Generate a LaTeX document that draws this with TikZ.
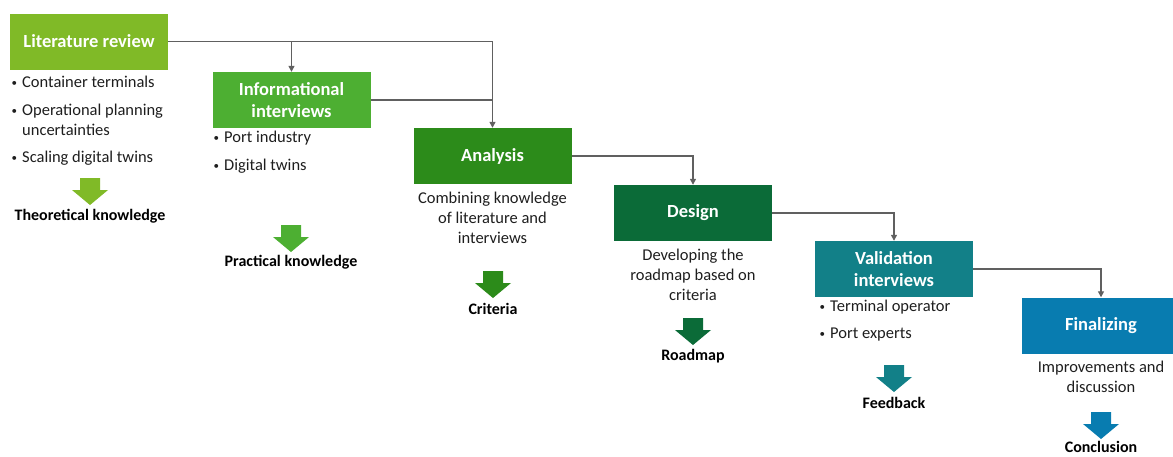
\documentclass[tikz,border=0pt]{standalone}
\usepackage{fontspec}
\setmainfont{Carlito}
\usetikzlibrary{arrows.meta}
\definecolor{litgreen}{RGB}{128,186,39}
\definecolor{infgreen}{RGB}{77,175,50}
\definecolor{anagreen}{RGB}{44,139,26}
\definecolor{desgreen}{RGB}{11,107,56}
\definecolor{valteal}{RGB}{18,128,136}
\definecolor{finblue}{RGB}{8,124,176}
\definecolor{linegray}{RGB}{96,96,96}
\definecolor{textgray}{RGB}{30,30,30}
\tikzset{
  phase/.style={fill=#1, text=white, minimum width=158pt, minimum height=56pt,
    align=center, inner sep=2pt, font=\fontsize{18.5}{22}\selectfont\bfseries},
  conn/.style={draw=linegray, line width=1.3pt, -{Triangle[width=6pt,length=6pt]}},
  link/.style={draw=linegray, line width=1.3pt},
  body/.style={inner sep=0pt, text=textgray, font=\fontsize{16.5}{20}\selectfont},
  result/.style={inner sep=0pt, text=black, font=\fontsize{16}{18}\selectfont\bfseries},
  downarr/.pic={\fill (-10,0) -- (10,0) -- (10,12) -- (18,12) -- (0,27) -- (-18,12) -- (-10,12) -- cycle;}
}
\newcommand{\bul}{\llap{\raisebox{1pt}{\fontsize{11}{11}\selectfont\textbullet}\hspace{5pt}}}
\begin{document}
\begin{tikzpicture}[x=1pt,y=-1pt]
  \clip (0,0) rectangle (1173,456);
  % phases
  \node[phase=litgreen] (lit) at (89,41.5) {Literature review};
  \node[phase=infgreen] (inf) at (291.5,100) {Informational\\interviews};
  \node[phase=anagreen] (ana) at (492.5,156) {Analysis};
  \node[phase=desgreen] (des) at (693,213) {Design};
  \node[phase=valteal] (val) at (894,269) {Validation\\interviews};
  \node[phase=finblue] (fin) at (1101,325.5) {Finalizing};
  % connectors
  \draw[conn] (lit.east) -| (ana.north);
  \draw[conn] (lit.east -| inf.north) -- (inf.north);
  \draw[link] (inf.east) -- (inf.east -| ana.north);
  \draw[conn] (ana.east) -| (des.north);
  \draw[conn] (des.east) -| (val.north);
  \draw[conn] (val.east) -| (fin.north);
  % descriptions
  \node[body, anchor=west] (lit1) at (22,82) {\bul Container terminals};
  \node[body, anchor=west, align=left] (lit2) at (22,120) {\bul Operational planning\\uncertainties};
  \node[body, anchor=west] (lit3) at (22,158) {\bul Scaling digital twins};
  \node[body, anchor=west] (inf1) at (224,138) {\bul Port industry};
  \node[body, anchor=west] (inf2) at (224,166) {\bul Digital twins};
  \node[body, align=center] (anatxt) at (492.5,218) {Combining knowledge\\of literature and\\interviews};
  \node[body, align=center] (destxt) at (693,275) {Developing the\\roadmap based on\\criteria};
  \node[body, anchor=west] (val1) at (830,307) {\bul Terminal operator};
  \node[body, anchor=west] (val2) at (830,335) {\bul Port experts};
  \node[body, align=center] (fintxt) at (1101,377) {Improvements and\\discussion};
  % outcomes
  \pic[fill=litgreen] at (90,178) {downarr};
  \pic[fill=infgreen] at (291,225) {downarr};
  \pic[fill=anagreen] at (493,271) {downarr};
  \pic[fill=desgreen] at (693,318) {downarr};
  \pic[fill=valteal] at (894,365) {downarr};
  \pic[fill=finblue] at (1101,412) {downarr};
  \node[result] (litout) at (90,216) {Theoretical knowledge};
  \node[result] (infout) at (291,262) {Practical knowledge};
  \node[result] (anaout) at (493,309) {Criteria};
  \node[result] (desout) at (693,356) {Roadmap};
  \node[result] (valout) at (894,403) {Feedback};
  \node[result] (finout) at (1101,447) {Conclusion};
\end{tikzpicture}
\end{document}
